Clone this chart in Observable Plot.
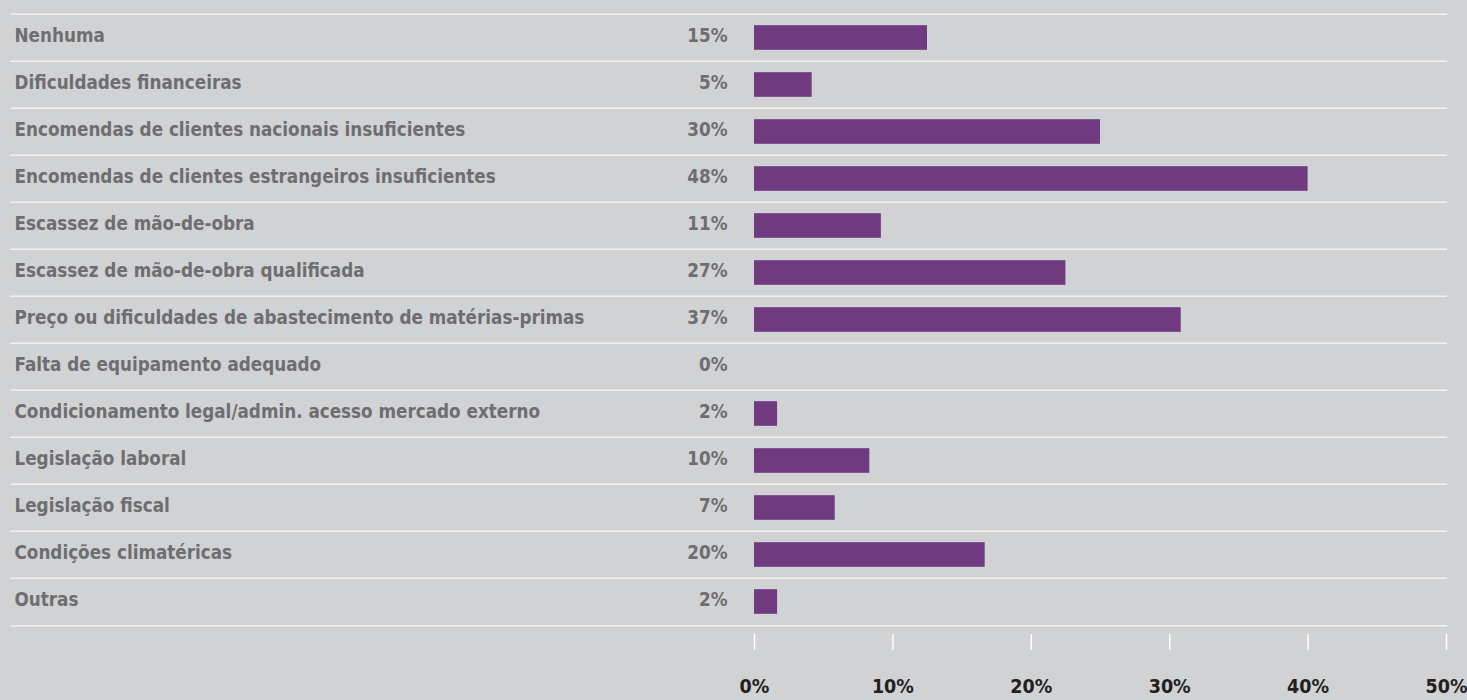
<!DOCTYPE html>
<html>
<head>
<meta charset="utf-8">
<script src="https://cdn.jsdelivr.net/npm/d3@7"></script>
<script src="https://cdn.jsdelivr.net/npm/@observablehq/plot@0.6"></script>
<style>
  html, body { margin: 0; padding: 0; background: #d1d2d4; }
  #chart svg { display: block; }
</style>
</head>
<body>
<div id="chart"></div>
<script>
// Obstáculos à actividade: percentagem de respostas por factor
const categories = [
  "Nenhuma",
  "Dificuldades financeiras",
  "Encomendas de clientes nacionais insuficientes",
  "Encomendas de clientes estrangeiros insuficientes",
  "Escassez de mão-de-obra",
  "Escassez de mão-de-obra qualificada",
  "Preço ou dificuldades de abastecimento de matérias-primas",
  "Falta de equipamento adequado",
  "Condicionamento legal/admin. acesso mercado externo",
  "Legislação laboral",
  "Legislação fiscal",
  "Condições climatéricas",
  "Outras"
];
const values = [15, 5, 30, 48, 11, 27, 37, 0, 2, 10, 7, 20, 2];
const tickLabels = ["0%", "10%", "20%", "30%", "40%", "50%"];
const xMax = 60;

const data = categories.map((c, i) => ({category: c, value: values[i]}));
const tickPositions = tickLabels.map((_, i) => i * xMax / (tickLabels.length - 1));

const font = "'DejaVu Sans Condensed', 'Liberation Sans Narrow', sans-serif";
const labelGray = "#6d6e71";
const fontSize = 18.7;

const chart = Plot.plot({
  width: 1467,
  height: 700,
  marginTop: 11.5,
  marginBottom: 72.5,
  marginLeft: 10,
  marginRight: 20,
  style: {background: "#d1d2d4", fontFamily: font, fontWeight: "bold"},
  x: {domain: [0, xMax], range: [754, 1446]},
  y: {domain: categories, padding: 0, axis: null},
  marks: [
    // row separators
    Plot.ruleY(categories, {y: d => d, dy: -23.7, stroke: "#f1f1f2", strokeWidth: 1.5}),
    Plot.ruleY(categories.slice(-1), {y: d => d, dy: 23.7, stroke: "#f1f1f2", strokeWidth: 1.5}),
    Plot.barX(data, {y: "category", x: "value", fill: "#6f3a80", insetTop: 11.2, insetBottom: 11.2}),
    Plot.text(data, {y: "category", frameAnchor: "left", text: "category", textAnchor: "start", dx: 4, dy: -1.5, fill: labelGray, fontSize}),
    Plot.text(data, {y: "category", x: 0, text: d => d.value + "%", textAnchor: "end", dx: -27, dy: -1.5, fill: labelGray, fontSize}),
    Plot.axisX({
      ticks: tickPositions,
      tickFormat: (d, i) => tickLabels[i],
      tickSize: 16,
      dy: 6.5,
      tickPadding: 29,
      stroke: "#ffffff",
      strokeWidth: 1.5,
      fill: "#231f20",
      fontSize: 19.5,
      label: null
    })
  ]
});
document.getElementById("chart").appendChild(chart);
</script>
</body>
</html>
